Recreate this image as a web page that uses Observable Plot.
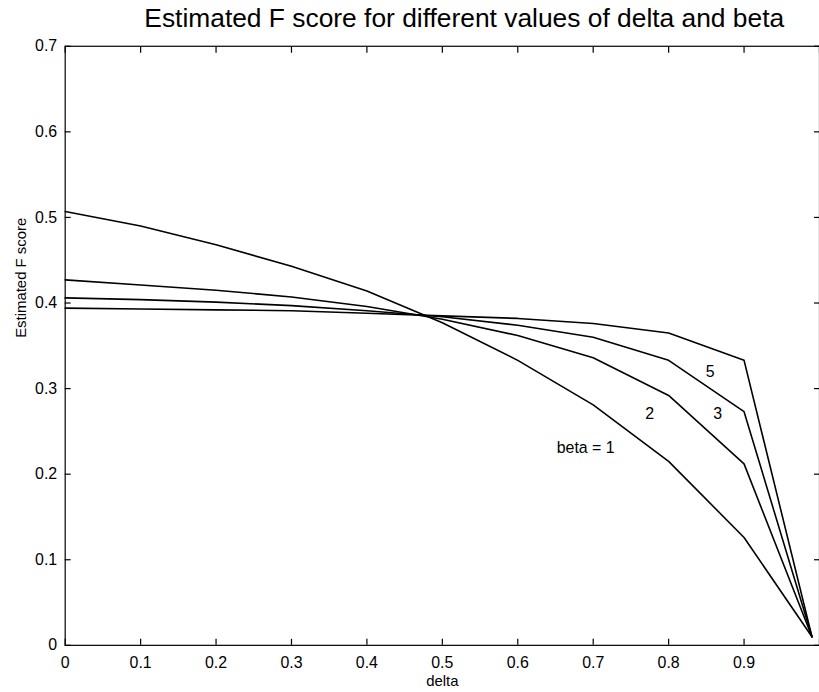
<!DOCTYPE html>
<html>
<head>
<meta charset="utf-8">
<script src="https://cdn.jsdelivr.net/npm/d3@7"></script>
<script src="https://cdn.jsdelivr.net/npm/@observablehq/plot@0.6"></script>
<style>
  html, body { margin: 0; padding: 0; background: white; overflow: hidden; }
  #chart { width: 819px; height: 692px; overflow: hidden; }
</style>
</head>
<body>
<div id="chart"></div>
<script>
// ---- data ----
const delta = [0, 0.1, 0.2, 0.3, 0.4, 0.5, 0.6, 0.7, 0.8, 0.9, 0.99];
const beta1 = [0.507, 0.490, 0.468, 0.443, 0.414, 0.377, 0.333, 0.281, 0.215, 0.126, 0.01];
const beta2 = [0.427, 0.421, 0.415, 0.407, 0.396, 0.381, 0.362, 0.336, 0.292, 0.212, 0.01];
const beta3 = [0.406, 0.404, 0.401, 0.397, 0.391, 0.384, 0.374, 0.360, 0.333, 0.273, 0.01];
const beta5 = [0.394, 0.393, 0.392, 0.391, 0.388, 0.385, 0.382, 0.376, 0.365, 0.333, 0.01];
const seriesNames = ["1", "2", "3", "5"];

const labelText = ["beta = 1", "2", "3", "5"];
const labelX = [0.690, 0.775, 0.865, 0.855];
const labelY = [0.231, 0.270, 0.270, 0.320];

const xTickValues = [0, 0.1, 0.2, 0.3, 0.4, 0.5, 0.6, 0.7, 0.8, 0.9, 1];
const xTickLabels = ["0", "0.1", "0.2", "0.3", "0.4", "0.5", "0.6", "0.7", "0.8", "0.9", ""];
const yTickValues = [0, 0.1, 0.2, 0.3, 0.4, 0.5, 0.6, 0.7];
const yTickLabels = ["0", "0.1", "0.2", "0.3", "0.4", "0.5", "0.6", "0.7"];

const titleText = "Estimated F score for different values of delta and beta";
const xLabel = "delta";
const yLabel = "Estimated F score";

// ---- build table ----
const allSeries = [beta1, beta2, beta3, beta5];
const rows = allSeries.flatMap((vals, s) =>
  vals.map((v, i) => ({delta: delta[i], f: v, beta: seriesNames[s]}))
);
const labels = labelText.map((t, i) => ({t, x: labelX[i], y: labelY[i]}));
const xFmt = d => xTickLabels[xTickValues.indexOf(d)];
const yFmt = d => yTickLabels[yTickValues.indexOf(d)];

const chart = Plot.plot({
  width: 823,
  height: 692,
  marginLeft: 65,
  marginRight: 0,
  marginTop: 46,
  marginBottom: 44,
  style: {fontFamily: "'Liberation Sans', Arial, Helvetica, sans-serif", fontSize: "16px", background: "white", color: "black"},
  x: {domain: [0, 1]},
  y: {domain: [0, 0.7]},
  marks: [
    Plot.frame({stroke: "black", strokeWidth: 1.2}),
    // tick labels
    Plot.axisX({ticks: xTickValues, tickFormat: xFmt, tickSize: 0, tickPadding: 11, label: null, fontSize: 16}),
    Plot.axisY({ticks: yTickValues, tickFormat: yFmt, tickSize: 0, tickPadding: 8, label: null, fontSize: 16}),
    // inward ticks on all four sides
    Plot.axisX({ticks: xTickValues, tickFormat: () => "", tickSize: -6, label: null, anchor: "bottom", strokeWidth: 1.2}),
    Plot.axisX({ticks: xTickValues, tickFormat: () => "", tickSize: -6, label: null, anchor: "top", strokeWidth: 1.2}),
    Plot.axisY({ticks: yTickValues, tickFormat: () => "", tickSize: -6, label: null, anchor: "left", strokeWidth: 1.2}),
    Plot.axisY({ticks: yTickValues, tickFormat: () => "", tickSize: -6, label: null, anchor: "right", strokeWidth: 1.2}),
    // lines
    Plot.line(rows, {x: "delta", y: "f", z: "beta", stroke: "black", strokeWidth: 1.6}),
    // annotations
    Plot.text(labels, {x: "x", y: "y", text: "t", fontSize: 16, fill: "black"}),
    // titles
    Plot.text([titleText], {frameAnchor: "top", lineAnchor: "middle", dx: 22, dy: -28, fontSize: 26.5, fill: "black"}),
    Plot.text([xLabel], {frameAnchor: "bottom", lineAnchor: "middle", dy: 36, fontSize: 15, fill: "black"}),
    Plot.text([yLabel], {frameAnchor: "left", dx: -44, dy: -8, rotate: -90, fontSize: 15, fill: "black"})
  ]
});
document.getElementById("chart").appendChild(chart);
</script>
</body>
</html>
